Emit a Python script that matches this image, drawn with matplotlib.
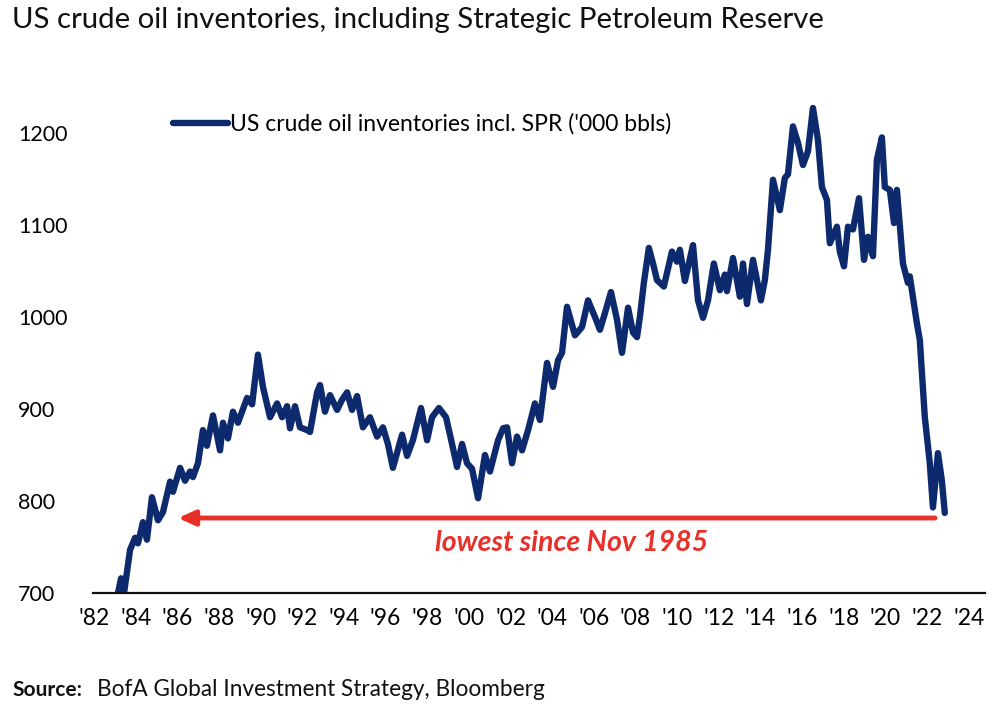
import matplotlib
matplotlib.use("Agg")
import matplotlib.pyplot as plt
from matplotlib import font_manager

# ---- data ----
years = [1983.10, 1983.15, 1983.30, 1983.44, 1983.73, 1983.97, 1984.11, 1984.35, 1984.54, 1984.78,
         1985.07, 1985.31, 1985.65, 1985.79, 1986.13, 1986.37, 1986.61, 1986.75, 1986.99, 1987.23,
         1987.42, 1987.71, 1988.05, 1988.19, 1988.43, 1988.67, 1988.91, 1989.35, 1989.59, 1989.87,
         1990.11, 1990.45, 1990.79, 1991.03, 1991.27, 1991.41, 1991.65, 1991.89, 1992.23, 1992.37,
         1992.71, 1992.85, 1993.09, 1993.33, 1993.67, 1993.91, 1994.15, 1994.39, 1994.63, 1994.91,
         1995.25, 1995.59, 1995.87, 1996.11, 1996.35, 1996.79, 1997.03, 1997.31, 1997.70, 1997.99,
         1998.23, 1998.56, 1998.90, 1999.19, 1999.43, 1999.67, 1999.91, 2000.15, 2000.44, 2000.77,
         2001.01, 2001.40, 2001.64, 2001.83, 2002.07, 2002.31, 2002.55, 2002.84, 2003.17, 2003.41,
         2003.75, 2004.04, 2004.28, 2004.47, 2004.71, 2005.09, 2005.43, 2005.72, 2006.05, 2006.29,
         2006.53, 2006.82, 2007.11, 2007.35, 2007.64, 2007.88, 2008.07, 2008.21, 2008.40, 2008.64,
         2008.84, 2009.03, 2009.36, 2009.75, 2009.99, 2010.13, 2010.37, 2010.76, 2011.00, 2011.24,
         2011.48, 2011.76, 2012.05, 2012.29, 2012.39, 2012.68, 2013.01, 2013.16, 2013.35, 2013.64,
         2014.02, 2014.21, 2014.36, 2014.60, 2014.93, 2015.17, 2015.32, 2015.56, 2015.80, 2016.04,
         2016.28, 2016.52, 2016.76, 2016.95, 2017.19, 2017.33, 2017.67, 2017.81, 2018.01, 2018.20,
         2018.44, 2018.73, 2018.97, 2019.16, 2019.40, 2019.59, 2019.83, 2019.97, 2020.21, 2020.41,
         2020.55, 2020.84, 2021.08, 2021.17, 2021.51, 2021.65, 2021.89, 2022.13, 2022.28, 2022.52,
         2022.71, 2022.85]
inventories = [690, 700, 716, 700, 747, 760, 754, 777, 758, 804,
               779, 788, 821, 810, 836, 822, 832, 826, 841, 877,
               860, 893, 855, 885, 868, 897, 885, 912, 905, 959,
               924, 891, 906, 891, 903, 879, 903, 880, 877, 875,
               918, 926, 897, 915, 899, 910, 918, 899, 914, 880,
               891, 870, 880, 862, 836, 872, 849, 866, 901, 866,
               891, 901, 891, 862, 837, 862, 841, 835, 803, 850,
               832, 866, 879, 880, 841, 870, 855, 877, 906, 888,
               950, 924, 953, 961, 1011, 980, 989, 1018, 1000, 986,
               1004, 1027, 997, 961, 1010, 983, 978, 1000, 1037, 1075,
               1058, 1040, 1033, 1071, 1060, 1073, 1039, 1078, 1018, 999,
               1018, 1058, 1029, 1046, 1028, 1064, 1022, 1058, 1014, 1062,
               1018, 1040, 1073, 1149, 1116, 1151, 1155, 1207, 1189, 1165,
               1180, 1227, 1192, 1141, 1127, 1080, 1098, 1071, 1055, 1098,
               1095, 1129, 1062, 1087, 1066, 1171, 1195, 1141, 1138, 1102,
               1138, 1058, 1037, 1044, 993, 975, 891, 841, 793, 852,
               822, 787]

tick_years = list(range(1982, 2025, 2))
tick_labels = ["'" + str(y)[2:] for y in tick_years]
y_ticks = [700, 800, 900, 1000, 1100, 1200]

series_label = "US crude oil inventories incl. SPR ('000 bbls)"
title = "US crude oil inventories, including Strategic Petroleum Reserve"
annotation = "lowest since Nov 1985"
arrow_start_year, arrow_end_year, arrow_level = 2022.38, 1986.03, 781.5

# ---- fonts ----
installed = {f.name for f in font_manager.fontManager.ttflist}
body = "Lato" if "Lato" in installed else "DejaVu Sans"

navy = "#0E2A6E"
red = "#E8302A"

fig = plt.figure(figsize=(10, 7.15), dpi=100)
ax = fig.add_axes([0.093, 0.1706, 0.892, 0.708])

ax.plot(years, inventories, color=navy, lw=4.6, solid_joinstyle="round",
        solid_capstyle="round", label=series_label)

ax.set_xlim(1981.95, 2024.78)
ax.set_ylim(700, 1250)

for s in ["top", "right", "left"]:
    ax.spines[s].set_visible(False)
ax.spines["bottom"].set_linewidth(1.6)
ax.spines["bottom"].set_color("#111111")

ax.set_xticks(tick_years)
ax.set_xticklabels(tick_labels, fontfamily=body, fontsize=16.5)
ax.set_yticks(y_ticks)
ax.set_yticklabels([str(v) for v in y_ticks], fontfamily=body, fontsize=15.5)
ax.tick_params(axis="x", length=0, pad=11)
ax.tick_params(axis="y", length=0, pad=54)
for lab in ax.get_yticklabels():
    lab.set_horizontalalignment("left")

leg = ax.legend(loc="upper left", bbox_to_anchor=(0.074, 0.975), frameon=False,
                prop={"family": body, "size": 16.5}, handlelength=2.4,
                handletextpad=0.1, borderaxespad=0.2)

# red arrow
ax.annotate("", xy=(arrow_end_year, arrow_level), xytext=(arrow_start_year, arrow_level),
            arrowprops=dict(arrowstyle="-|>,head_length=1.0,head_width=0.45",
                            color=red, lw=3.5, shrinkA=0, shrinkB=0))
ax.text(2004.95, 754, annotation, color=red, fontsize=20.5, fontweight="bold",
        fontstyle="italic", ha="center", va="center", fontfamily=body)

fig.text(0.012, 0.972, title, fontsize=21.2, fontfamily=body, ha="left", va="center",
         color="#111111")
fig.text(0.012, 0.035, "Source:", fontsize=15, fontweight="bold", fontfamily=body,
         ha="left", va="center", color="#111111")
fig.text(0.097, 0.035, "BofA Global Investment Strategy, Bloomberg", fontsize=16.3,
         fontfamily=body, ha="left", va="center", color="#111111")

fig.savefig("out.png", dpi=100, facecolor="white")
